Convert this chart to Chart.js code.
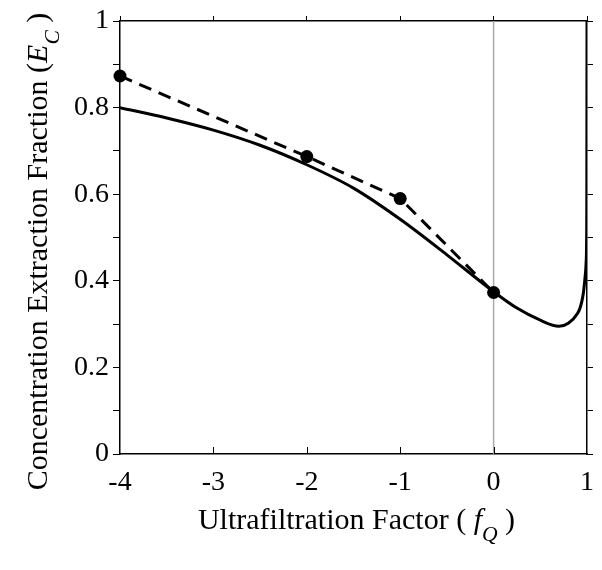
<!DOCTYPE html>
<html>
<head>
<meta charset="utf-8">
<script src="https://cdn.jsdelivr.net/npm/chart.js@4.4.1/dist/chart.umd.min.js"></script>
<style>
  html, body { margin: 0; padding: 0; background: #fff; }
  canvas { display: block; }
</style>
</head>
<body>
<canvas id="myChart" width="602" height="570"></canvas>
<script>
// Curva teórica (linha contínua)
const curveX = [-4, -3.5, -3, -2.5, -2, -1.5, -1, -0.5, 0, 0.25, 0.5, 0.7, 0.8, 0.9, 0.93, 0.96, 0.98, 0.99, 0.995, 0.998, 1.0];
const curveY = [0.80, 0.776, 0.748, 0.713, 0.668, 0.614, 0.542, 0.46, 0.375, 0.337, 0.309, 0.295, 0.302, 0.325, 0.34, 0.37, 0.41, 0.44, 0.48, 0.6, 1.0];

// Pontos medidos (linha tracejada)
const measX = [-4, -2, -1, 0];
const measY = [0.873, 0.687, 0.59, 0.373];

// Linha vertical de referência em f = 0
const refX = [0, 0];
const refY = [0, 1];

const xTicks = [-4, -3, -2, -1, 0, 1];

const FONT = '"Liberation Serif", "Times New Roman", serif';

function toPoints(xs, ys) {
  return xs.map((x, i) => ({ x: x, y: ys[i] }));
}

// Desenha texto com itálico / subscrito
function drawRich(ctx, segs, size) {
  let total = 0;
  segs.forEach(s => {
    ctx.font = (s.italic ? 'italic ' : '') + (s.sub ? size * 0.72 : size) + 'px ' + FONT;
    s.w = ctx.measureText(s.text).width;
    total += s.w;
  });
  let x = -total / 2;
  segs.forEach(s => {
    ctx.font = (s.italic ? 'italic ' : '') + (s.sub ? size * 0.72 : size) + 'px ' + FONT;
    ctx.fillText(s.text, x, s.sub ? size * 0.4 : 0);
    x += s.w;
  });
}

const extras = {
  id: 'extras',
  afterDraw(chart) {
    const ctx = chart.ctx;
    const xs = chart.scales.x;
    const area = chart.chartArea;
    ctx.save();
    // ticks internos no eixo inferior
    ctx.strokeStyle = '#000';
    ctx.lineWidth = 1;
    xTicks.slice(1, -1).forEach(v => {
      const px = Math.round(xs.getPixelForValue(v)) + 0.5;
      ctx.beginPath();
      ctx.moveTo(px, area.bottom);
      ctx.lineTo(px, area.bottom - 7);
      ctx.stroke();
    });
    ctx.fillStyle = '#000';
    ctx.textBaseline = 'alphabetic';
    ctx.textAlign = 'left';
    // título eixo X
    ctx.save();
    ctx.translate((area.left + area.right) / 2 + 3, 529);
    drawRich(ctx, [
      { text: 'Ultrafiltration Factor ( ' },
      { text: 'f', italic: true },
      { text: 'Q', italic: true, sub: true },
      { text: ' )' }
    ], 30);
    ctx.restore();
    // título eixo Y
    ctx.save();
    ctx.translate(47, (area.top + area.bottom) / 2 + 14);
    ctx.rotate(-Math.PI / 2);
    drawRich(ctx, [
      { text: 'Concentration Extraction Fraction (' },
      { text: 'E', italic: true },
      { text: 'C', italic: true, sub: true },
      { text: ' )' }
    ], 30);
    ctx.restore();
    ctx.restore();
  }
};

const ctx = document.getElementById('myChart').getContext('2d');
const chart = new Chart(ctx, {
  type: 'line',
  data: {
    datasets: [
      {
        label: 'ref',
        data: toPoints(refX, refY),
        borderColor: '#aaaaaa',
        borderWidth: 1.5,
        pointRadius: 0,
        order: 3
      },
      {
        label: 'teoria',
        data: toPoints(curveX, curveY),
        borderColor: '#000',
        borderWidth: 3,
        pointRadius: 0,
        cubicInterpolationMode: 'monotone',
        order: 2
      },
      {
        label: 'medido',
        data: toPoints(measX, measY),
        borderColor: '#000',
        borderWidth: 3,
        borderDash: [13, 8],
        pointRadius: 6.5,
        pointBackgroundColor: '#000',
        pointBorderColor: '#000',
        pointBorderWidth: 0,
        tension: 0,
        clip: false,
        order: 1
      }
    ]
  },
  options: {
    responsive: false,
    animation: false,
    layout: { padding: 0 },
    plugins: {
      legend: { display: false },
      tooltip: { enabled: false }
    },
    scales: {
      x: {
        type: 'linear',
        position: 'bottom',
        min: -4,
        max: 1,
        afterBuildTicks: s => { s.ticks = xTicks.map(v => ({ value: v })); },
        ticks: { color: '#000', font: { family: FONT, size: 28 }, padding: 12, maxRotation: 0 },
        grid: { drawOnChartArea: false, drawTicks: false },
        border: { color: '#000', width: 1.5 },
        afterFit: s => { s.height = 116; s.paddingLeft = 0; s.paddingRight = 0; }
      },
      x2: {
        type: 'linear',
        position: 'top',
        min: -4,
        max: 1,
        afterBuildTicks: s => { s.ticks = xTicks.map(v => ({ value: v })); },
        ticks: { display: false },
        grid: { drawOnChartArea: false, drawTicks: true, tickLength: 5, color: '#000' },
        border: { color: '#000', width: 1.5 },
        afterFit: s => { s.height = 21; s.paddingLeft = 0; s.paddingRight = 0; }
      },
      y: {
        position: 'left',
        min: 0,
        max: 1,
        ticks: {
          stepSize: 0.1,
          color: '#000',
          font: { family: FONT, size: 28 },
          padding: 4,
          callback: v => {
            const k = Math.round(v * 10);
            return k % 2 === 0 ? String(k / 10) : '';
          }
        },
        grid: { drawOnChartArea: false, drawTicks: true, tickLength: 7, color: '#000' },
        border: { color: '#000', width: 1.5 },
        afterFit: s => { s.width = 120; s.paddingTop = 0; s.paddingBottom = 0; }
      },
      y2: {
        position: 'right',
        min: 0,
        max: 1,
        ticks: { stepSize: 0.1, display: false },
        grid: { drawOnChartArea: false, drawTicks: true, tickLength: 6, color: '#000' },
        border: { color: '#000', width: 1.5 },
        afterFit: s => { s.width = 15; }
      }
    }
  },
  plugins: [extras]
});
</script>
</body>
</html>
